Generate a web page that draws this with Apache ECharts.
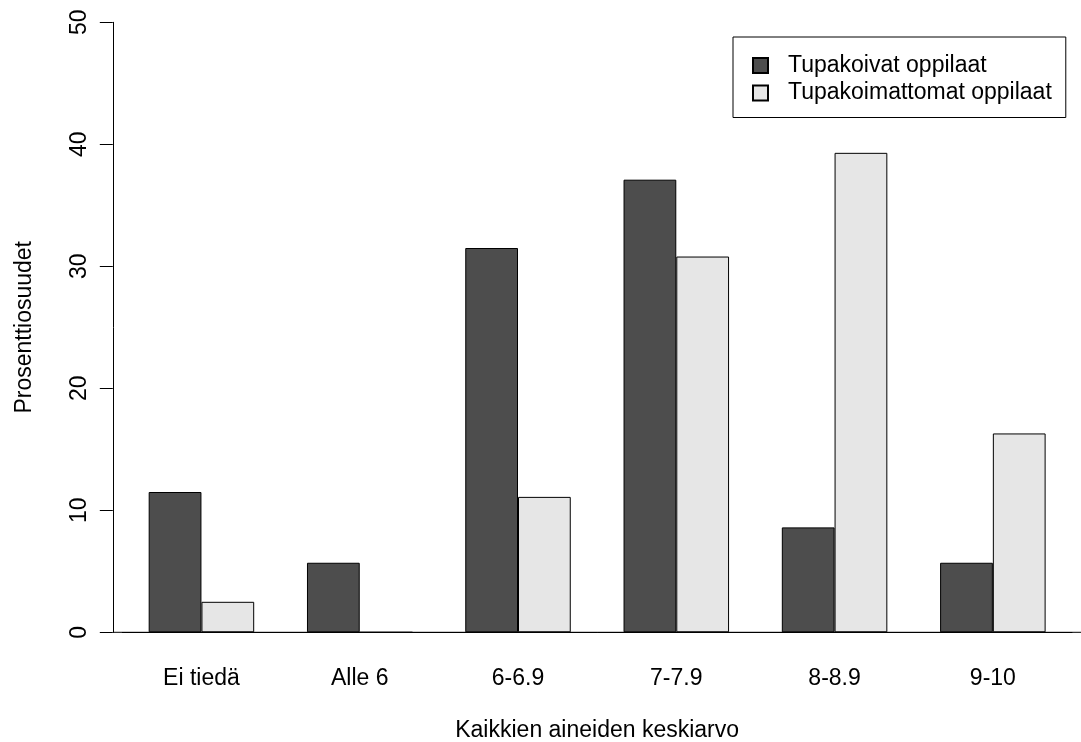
<!DOCTYPE html>
<html>
<head>
<meta charset="utf-8">
<script src="https://cdn.jsdelivr.net/npm/echarts@6/dist/echarts.min.js"></script>
<style>
html,body{margin:0;padding:0;background:#fff;}
#chart{width:1081px;height:742px;}
</style>
</head>
<body>
<div id="chart"></div>
<script>
const categories = ["Ei tiedä", "Alle 6", "6-6.9", "7-7.9", "8-8.9", "9-10"];
const smokers = [11.5, 5.7, 31.5, 37.1, 8.6, 5.7];
const nonSmokers = [2.5, 0, 11.1, 30.8, 39.3, 16.3];
const seriesNames = ["Tupakoivat oppilaat", "Tupakoimattomat oppilaat"];
const yTicks = [0, 10, 20, 30, 40, 50];

const FONT = "Liberation Sans, Arial, Helvetica, sans-serif";
const chart = echarts.init(document.getElementById('chart'), null, {renderer: 'canvas'});
const gridLeft = 122.3, gridRight = 9, axisX = 112.8, plotRight = 1081.6;

const option = {
  animation: false,
  backgroundColor: '#fff',
  textStyle: {fontFamily: FONT, color: '#000'},
  grid: {left: gridLeft, right: gridRight, top: 22.3, bottom: 109.7, containLabel: false, outerBoundsMode: 'none'},
  legend: {
    data: seriesNames,
    orient: 'vertical',
    left: 733, top: 37,
    padding: [17, 14, 13, 19],
    itemWidth: 15, itemHeight: 15, itemGap: 4.5,
    backgroundColor: '#fff', borderColor: '#000', borderWidth: 1, borderRadius: 0,
    icon: 'rect',
    textStyle: {fontFamily: FONT, fontSize: 23, color: '#000', lineHeight: 23, padding: [0, 0, 0, 15]}
  },
  xAxis: {
    type: 'category',
    data: categories,
    name: 'Kaikkien aineiden keskiarvo',
    nameLocation: 'middle',
    nameGap: 87,
    nameTextStyle: {fontFamily: FONT, fontSize: 23, color: '#000'},
    axisLine: {show: true, lineStyle: {color: '#000', width: 1}},
    axisTick: {show: false},
    axisLabel: {fontFamily: FONT, fontSize: 23, color: '#000', margin: 35},
    splitLine: {show: false}
  },
  yAxis: {
    type: 'value',
    min: yTicks[0], max: yTicks[yTicks.length - 1], interval: 10,
    offset: gridLeft - axisX,
    name: 'Prosenttiosuudet',
    nameLocation: 'middle',
    nameGap: 77,
    nameRotate: 90,
    nameTextStyle: {fontFamily: FONT, fontSize: 23, color: '#000'},
    axisLine: {show: true, lineStyle: {color: '#000', width: 1}},
    axisTick: {show: true, length: 13, lineStyle: {color: '#000', width: 1}},
    axisLabel: {fontFamily: FONT, fontSize: 23, color: '#000', rotate: 90, margin: 22},
    splitLine: {show: false}
  },
  series: [
    {
      name: seriesNames[0], type: 'bar', data: smokers,
      barWidth: '33.33%', barGap: '0%',
      itemStyle: {color: '#4D4D4D', borderColor: '#000', borderWidth: 1}
    },
    {
      name: seriesNames[1], type: 'bar', data: nonSmokers,
      barWidth: '33.33%', barGap: '0%',
      itemStyle: {color: '#E6E6E6', borderColor: '#000', borderWidth: 1}
    }
  ]
};
chart.setOption(option);
const y0 = chart.convertToPixel({yAxisIndex: 0}, 0);
chart.setOption({
  graphic: [{
    type: 'line', z: 100,
    shape: {x1: axisX, y1: y0, x2: plotRight, y2: y0},
    style: {stroke: '#000', lineWidth: 1}
  }]
});
</script>
</body>
</html>
